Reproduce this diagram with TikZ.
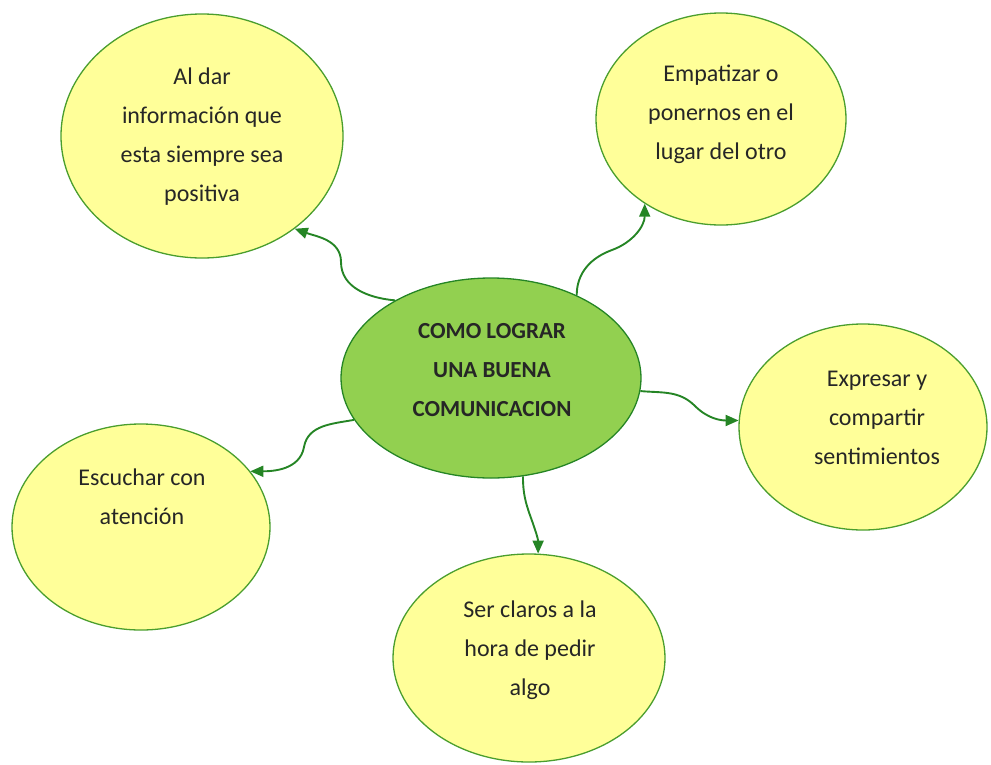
\documentclass[tikz,border=0pt]{standalone}
\usepackage{fontspec}
\setmainfont{Carlito}
\usepackage{xcolor}
\usepackage{tikz}
\usetikzlibrary{arrows.meta,calc,shapes.geometric}

\definecolor{leaf}{HTML}{92D050}
\definecolor{cream}{HTML}{FFFF99}
\definecolor{rim}{HTML}{4A9E2E}
\definecolor{vine}{HTML}{258525}

\tikzset{
	idea/.style={ellipse, draw=rim, line width=1.3pt, fill=cream, inner sep=0pt},
	core/.style={idea, fill=leaf, draw=vine},
	txt/.style={align=center, font=\fontsize{24}{39}\selectfont, text=black!85},
	link/.style={draw=vine, line width=1.9pt, -{Triangle[length=13pt,width=11pt]}}
}

\begin{document}
\begin{tikzpicture}[x=1pt,y=1pt]
		\useasboundingbox (0,0) rectangle (991,-764);
		% ideas
		\node[core, minimum width=300pt, minimum height=200pt] (ctr) at (491,-378) {};
		\node[idea, minimum width=282pt, minimum height=244pt] (e1) at (202,-136) {};
		\node[idea, minimum width=250pt, minimum height=212pt] (e2) at (721,-119) {};
		\node[idea, minimum width=248pt, minimum height=206pt] (e3) at (863,-427) {};
		\node[idea, minimum width=258pt, minimum height=206pt] (e4) at (141,-527) {};
		\node[idea, minimum width=272pt, minimum height=208pt] (e5) at (529,-658) {};
		% texts
		\node[txt, font=\fontsize{23}{39}\selectfont\bfseries] (tc) at (492,-370) {COMO LOGRAR\\UNA BUENA\\COMUNICACION};
		\node[txt] (t1) at (202,-137) {Al dar\\información que\\esta siempre sea\\positiva};
		\node[txt] (t2) at (721,-114) {Empatizar o\\ponernos en el\\lugar del otro};
		\node[txt] (t3) at (877,-418) {Expresar y\\compartir\\sentimientos};
		\node[txt] (t4) at (142,-497) {Escuchar con\\atención};
		\node[txt] (t5) at (530,-650) {Ser claros a la\\hora de pedir\\algo};
		% bends
		\coordinate (m1) at (341,-262);
		\coordinate (m2) at (612,-250);
		\coordinate (m3) at (695,-406);
		\coordinate (m4) at (304,-447);
		\coordinate (m5) at (531,-518);
		\draw[link] (ctr.141) to[out=175,in=-90] (m1) to[out=90,in=-20] (e1.-45);
		\draw[link] (ctr.44) to[out=90,in=200] (m2) to[out=20,in=-90] (e2.-132);
		\draw[link] (ctr.-5) to[out=-5,in=135] (m3) to[out=-45,in=180] (e3.177);
		\draw[link] (ctr.-163) to[out=190,in=80] (m4) to[out=-100,in=0] (e4.27);
		\draw[link] (ctr.-72) to[out=-90,in=110] (m5) to[out=-70,in=90] (e5.85);
	\end{tikzpicture}
\end{document}
